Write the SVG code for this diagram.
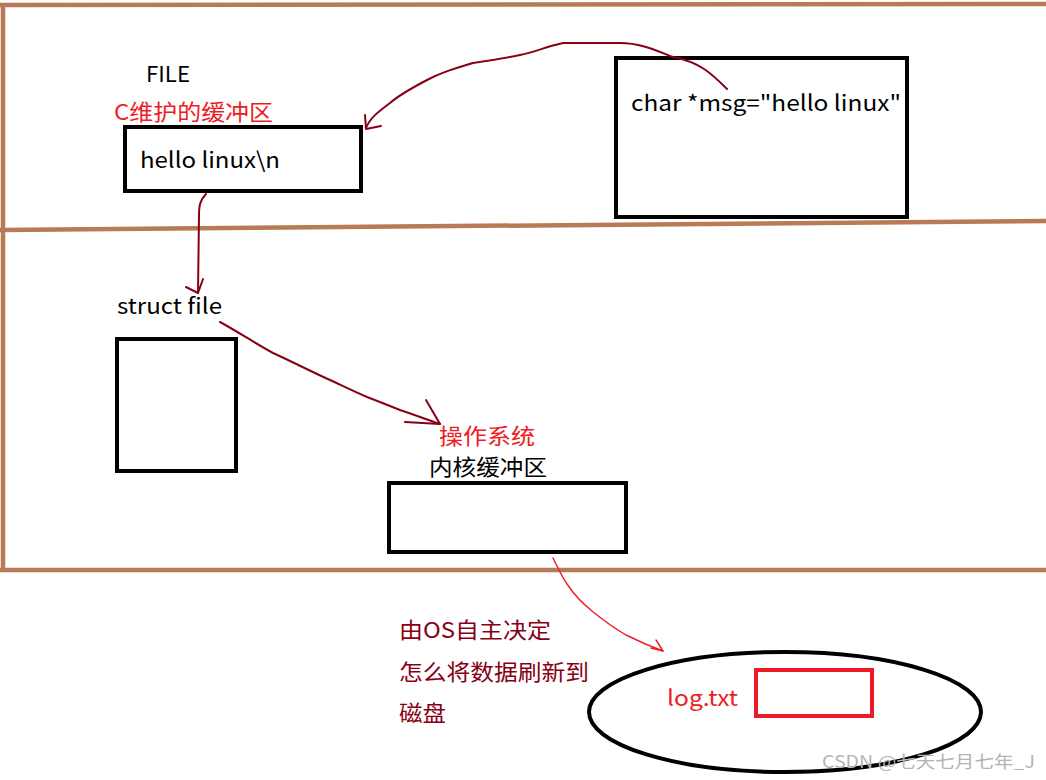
<svg xmlns="http://www.w3.org/2000/svg" width="1046" height="780" viewBox="0 0 1046 780">
<style>
.sep{stroke:#B97A57;stroke-width:4.5;fill:none}
.box{fill:none;stroke:#000;stroke-width:4}
.t{font-family:"Noto Sans CJK SC","Noto Sans",sans-serif;font-size:22px;fill:#000}
.red{fill:#ED1C24}
.dred{fill:#880015}
.con{fill:none;stroke:#880015;stroke-width:2;stroke-linecap:round;stroke-linejoin:round}
.conr{fill:none;stroke:#ED1C24;stroke-width:1.4;stroke-linecap:round;stroke-linejoin:round}
</style>
<rect width="1046" height="780" fill="#fff"/>
<g id="frame">
<line class="sep" x1="0" y1="5" x2="1046" y2="4"/>
<line class="sep" x1="3" y1="4" x2="3" y2="571"/>
<line class="sep" x1="0" y1="230" x2="1046" y2="221"/>
<line class="sep" x1="0" y1="570" x2="1046" y2="570"/>
</g>
<g id="file-buffer">
<text class="t" x="146" y="82" textLength="44" lengthAdjust="spacingAndGlyphs">FILE</text>
<text class="t red" x="114" y="120" textLength="159" lengthAdjust="spacingAndGlyphs">C维护的缓冲区</text>
<rect class="box" x="125" y="127" width="236" height="64"/>
<text class="t" x="140" y="168" textLength="140" lengthAdjust="spacingAndGlyphs">hello linux\n</text>
</g>
<g id="msg">
<rect class="box" x="616" y="58" width="291" height="159"/>
<text class="t" x="631" y="111" textLength="270" lengthAdjust="spacingAndGlyphs">char *msg="hello linux"</text>
</g>
<g id="struct-file">
<text class="t" x="117" y="314" textLength="105" lengthAdjust="spacingAndGlyphs">struct file</text>
<rect class="box" x="117" y="339" width="119" height="132"/>
</g>
<g id="kernel-buffer">
<text class="t red" x="439" y="444" font-size="23" textLength="96" lengthAdjust="spacingAndGlyphs">操作系统</text>
<text class="t" x="429" y="475" textLength="118" lengthAdjust="spacingAndGlyphs">内核缓冲区</text>
<rect class="box" x="389" y="483" width="237" height="69"/>
</g>
<g id="note">
<text class="t dred" x="399" y="638" textLength="152" lengthAdjust="spacingAndGlyphs">由OS自主决定</text>
<text class="t dred" x="399" y="680" textLength="190" lengthAdjust="spacingAndGlyphs">怎么将数据刷新到</text>
<text class="t dred" x="399" y="721" textLength="47" lengthAdjust="spacingAndGlyphs">磁盘</text>
</g>
<g id="disk">
<ellipse cx="785" cy="712" rx="196" ry="60" fill="none" stroke="#000" stroke-width="4"/>
<text class="t red" x="667" y="706" textLength="71" lengthAdjust="spacingAndGlyphs">log.txt</text>
<rect x="756" y="670" width="116" height="46" fill="none" stroke="#ED1C24" stroke-width="4"/>
</g>
<g id="connectors">
<path class="con" d="M727,89 C712,74 700,62 673,57 C655,50 640,43 620,43 L563,43 C545,47 535,52 520,55 C500,59 487,61 473,63 C450,70 440,73 427,80 C408,90 398,96 390,103 C378,112 370,118 366,128"/>
<path class="con" d="M365,115 L366,129 L381,126"/>
<path class="con" d="M206,194 C200,200 199,206 199,215 L198,293"/>
<path class="con" d="M186,287 L198,293 L203,279"/>
<path class="con" d="M220,322 C240,333 258,345 273,353 C295,363 312,372 330,380 C345,387 355,392 367,397 C380,402 390,406 400,410 C415,415 428,420 440,424"/>
<path class="con" d="M405,422 L440,424 L426,400"/>
<path class="conr" d="M553,558 C558,568 562,577 567,584 C575,596 582,603 592,611 C603,620 614,628 626,635 C640,642 652,647 663,651"/>
<path class="conr" d="M656,640 L663,651 L651,648"/>
</g>
<text x="822" y="768" font-family="'Noto Sans CJK SC','Noto Sans',sans-serif" font-size="17" fill="#b4b4b4" textLength="213" lengthAdjust="spacingAndGlyphs">CSDN @七天七月七年_J</text>
</svg>
